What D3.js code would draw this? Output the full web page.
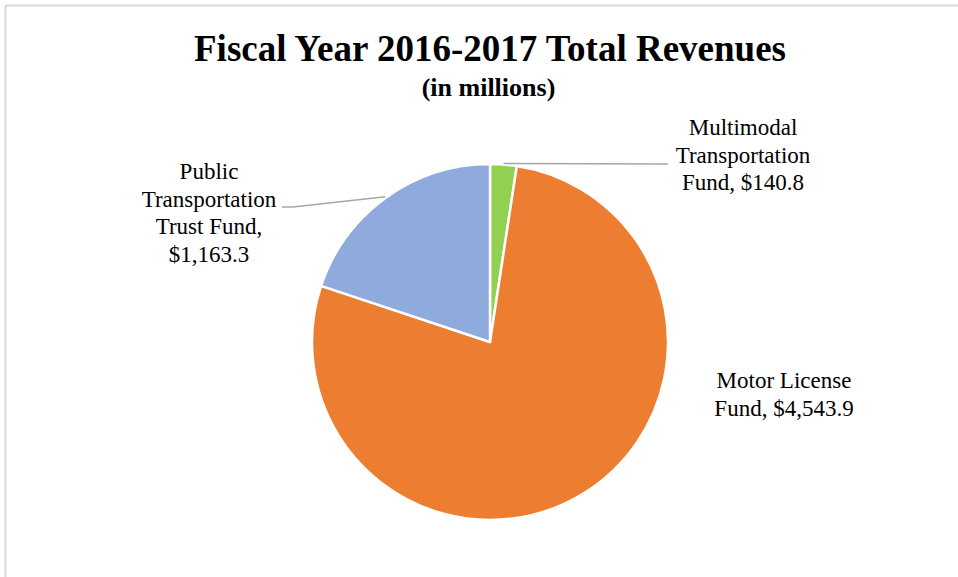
<!DOCTYPE html>
<html>
<head>
<meta charset="utf-8">
<script src="https://cdn.jsdelivr.net/npm/d3@7/dist/d3.min.js"></script>
<style>
  html, body { margin: 0; padding: 0; background: #fff; }
  svg { display: block; }
  text { font-family: "Liberation Serif", "Times New Roman", serif; fill: #000; }
</style>
</head>
<body>
<svg id="chart" width="958" height="577"></svg>
<script>
// ---- data ----
const title = "Fiscal Year 2016-2017 Total Revenues";
const subtitle = "(in millions)";
const categories = ["Multimodal Transportation Fund", "Motor License Fund", "Public Transportation Trust Fund"];
const values = [140.8, 4543.9, 1163.3];
const colors = ["#92d050", "#ed7d31", "#8faadc"];
const labelLines = [
  ["Multimodal", "Transportation", "Fund, $140.8"],
  ["Motor License", "Fund, $4,543.9"],
  ["Public", "Transportation", "Trust Fund,", "$1,163.3"]
];

// ---- layout ----
const W = 958, H = 577;
const cx = 490, cy = 342, R = 178;
const svg = d3.select("#chart");

// frame
svg.append("rect")
  .attr("x", 5.5).attr("y", 5.5)
  .attr("width", W + 20).attr("height", H + 20)
  .attr("fill", "none").attr("stroke", "#d9d9d9").attr("stroke-width", 2);

// titles
svg.append("text").attr("x", 490).attr("y", 61)
  .attr("text-anchor", "middle").attr("font-size", 37).attr("font-weight", "bold")
  .text(title);
svg.append("text").attr("x", 488.5).attr("y", 96)
  .attr("text-anchor", "middle").attr("font-size", 26).attr("font-weight", "bold")
  .text(subtitle);

// pie
const pie = d3.pie().sort(null).startAngle(0).endAngle(2 * Math.PI);
const arcs = pie(values);
const arc = d3.arc().innerRadius(0).outerRadius(R);
const g = svg.append("g").attr("transform", `translate(${cx},${cy})`);
g.selectAll("path").data(arcs).enter().append("path")
  .attr("d", arc)
  .attr("fill", (d, i) => colors[i])
  .attr("stroke", "#fff").attr("stroke-width", 2.5).attr("stroke-linejoin", "round");

// labels (anchor positions for each label block, and leader elbows)
const labelPos = [
  { x: 743, y: 135, lead: [[668, 164]] },
  { x: 784, y: 388, lead: null },
  { x: 209, y: 179, lead: [[293, 207], [282, 207]] }
];
const lineH = 27.7;

arcs.forEach((d, i) => {
  const p = labelPos[i];
  if (p.lead) {
    const a = (d.startAngle + d.endAngle) / 2;
    const sx = cx + Math.sin(a) * (R + 1), sy = cy - Math.cos(a) * (R + 1);
    const pts = [[sx, sy]].concat(p.lead);
    svg.append("path")
      .attr("d", d3.line()(pts))
      .attr("fill", "none").attr("stroke", "#a6a6a6").attr("stroke-width", 1.5);
  }
  const t = svg.append("text").attr("text-anchor", "middle").attr("font-size", 23);
  labelLines[i].forEach((ln, j) => {
    t.append("tspan").attr("x", p.x).attr("y", p.y + j * lineH).text(ln);
  });
});
</script>
</body>
</html>
